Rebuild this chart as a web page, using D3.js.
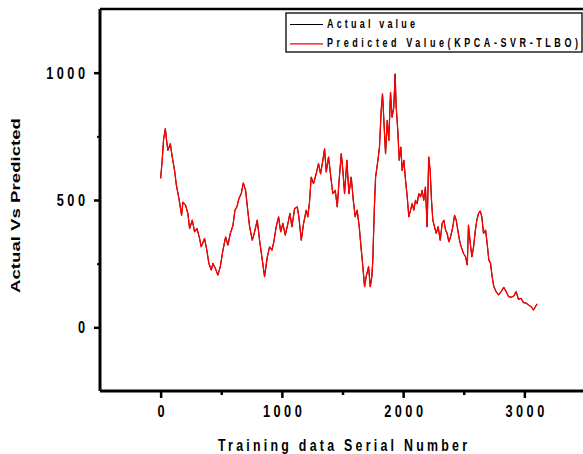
<!DOCTYPE html>
<html>
<head>
<meta charset="utf-8">
<script src="https://cdn.jsdelivr.net/npm/d3@7"></script>
<style>
  html, body { margin: 0; padding: 0; background: #fff; }
  svg { display: block; }
</style>
</head>
<body>
<svg id="chart" width="583" height="454"></svg>
<script>
// ---- data ----
const serialNumbers = [0,12,25,39,50,60,80,96,115,130,151,173,184,206,225,239,261,280,300,321,335,362,381,398,418,431,451,472,492,514,536,555,575,597,613,629,646,665,682,701,717,734,756,775,797,816,835,857,880,899,918,934,953,973,990,1008,1028,1050,1066,1083,1105,1127,1140,1160,1179,1201,1214,1228,1242,1261,1283,1302,1319,1338,1352,1366,1385,1402,1420,1440,1457,1470,1490,1503,1517,1536,1553,1572,1589,1605,1621,1638,1655,1668,1682,1695,1715,1729,1742,1750,1762,1773,1792,1805,1819,1830,1844,1855,1869,1882,1896,1909,1923,1934,1943,1956,1968,1981,1992,2006,2020,2034,2047,2061,2075,2088,2102,2116,2129,2143,2157,2170,2184,2198,2211,2223,2234,2245,2259,2273,2289,2306,2322,2336,2350,2363,2377,2391,2410,2424,2438,2451,2465,2479,2498,2515,2529,2539,2554,2567,2581,2596,2608,2622,2636,2649,2663,2680,2693,2707,2721,2734,2748,2767,2786,2808,2830,2850,2869,2891,2913,2932,2951,2973,2992,3015,3034,3056,3075,3091,3105];
const actualValues = [585,650,740,780,730,695,721,668,616,558,506,440,492,479,447,388,421,375,388,349,316,349,303,251,225,251,232,205,238,303,355,323,369,401,460,473,506,525,567,538,466,395,342,375,421,342,277,199,277,316,303,336,395,434,375,408,362,408,447,395,466,473,434,342,408,460,434,492,590,564,603,643,603,656,701,610,669,597,525,538,473,564,682,616,525,656,525,590,499,434,460,395,303,238,160,199,238,160,199,264,460,590,656,708,851,917,786,682,812,734,923,825,864,995,864,773,656,708,616,656,577,512,434,460,486,460,499,486,525,512,538,499,551,395,669,616,499,421,395,369,395,342,408,421,382,369,336,355,395,440,421,382,342,316,290,277,245,401,329,277,316,382,421,447,457,434,369,382,329,264,251,199,160,140,127,140,157,140,121,118,123,140,110,114,97,95,88,81,68,81,92];
// the predicted curve coincides with the actual one at this resolution
const predictedValues = actualValues.slice();

const xTickValues = [0, 1000, 2000, 3000];
const yTickValues = [0, 500, 1000];
const seriesNames = ["Actual value", "Predicted Value(KPCA-SVR-TLBO)"];
const xTitle = "Training data Serial Number";
const yTitle = "Actual Vs Predicted";

(function () {
const svg = d3.select("#chart");
const mLeft = 100, mTop = 9, mBottom = 391, mRight = 585;
const x = d3.scaleLinear().domain([-500, 3500]).range([mLeft, mRight]);
const y = d3.scaleLinear().domain([-250, 1250]).range([mBottom, mTop]);
const FONT = "'Liberation Sans', Arial, sans-serif";

// condensed text: glyphs squeezed horizontally by sx, spacing fitted to width w
function condense(t, w, sx) {
  const x0 = +(t.attr("x") || 0);
  t.attr("transform", `scale(${sx},1)`).attr("x", x0 / sx)
   .attr("textLength", w / sx).attr("lengthAdjust", "spacing");
}

// series
const line = d3.line().x(d => x(d[0])).y(d => y(d[1]));
const actualPts = serialNumbers.map((s, i) => [s, actualValues[i]]);
const predPts = serialNumbers.map((s, i) => [s, predictedValues[i]]);
svg.append("path").datum(actualPts).attr("d", line)
  .attr("fill", "none").attr("stroke", "#000").attr("stroke-width", 1);
svg.append("path").datum(predPts).attr("d", line)
  .attr("fill", "none").attr("stroke", "#ff0000").attr("stroke-width", 1.3)
  .attr("stroke-linejoin", "round");

// axes
const xAxis = d3.axisBottom(x).tickValues(xTickValues).tickSize(7).tickFormat(d3.format("d"));
const yAxis = d3.axisLeft(y).tickValues(yTickValues).tickSize(6).tickFormat(d3.format("d"));
const gx = svg.append("g").attr("transform", `translate(0,${mBottom})`).call(xAxis);
const gy = svg.append("g").attr("transform", `translate(${mLeft},0)`).call(yAxis);

// minor ticks
svg.append("g").attr("transform", `translate(0,${mBottom})`)
  .call(d3.axisBottom(x).tickValues([500, 1500, 2500]).tickSize(4).tickFormat(""))
  .call(g => g.select(".domain").remove())
  .selectAll("line").attr("stroke-width", 2.5);
svg.append("g").attr("transform", `translate(${mLeft},0)`)
  .call(d3.axisLeft(y).tickValues([250, 750]).tickSize(3).tickFormat(""))
  .call(g => g.select(".domain").remove())
  .selectAll("line").attr("stroke-width", 2);

[gx, gy].forEach(g => {
  g.select(".domain").attr("stroke-width", 3);
  g.selectAll(".tick line").attr("stroke-width", 2.5);
  g.selectAll(".tick text")
    .attr("font-family", FONT).attr("font-weight", "bold")
    .attr("font-size", 17).attr("fill", "#000");
});
gx.select(".domain").attr("d", `M${mLeft},0H${mRight}`);
gy.select(".domain").attr("d", `M0,${mBottom}V${mTop}`);
const labelW = s => 10.6 * s.length - 3.6;
gx.selectAll(".tick text").attr("y", 26).attr("dy", null).each(function (d) {
  const t = d3.select(this); condense(t, labelW(String(d)), 0.75);
});
gy.selectAll(".tick text").attr("x", -15).attr("dy", null).attr("y", 5.5).each(function (d) {
  const t = d3.select(this); condense(t, labelW(String(d)), 0.75);
});

// top border
svg.append("line").attr("x1", mLeft).attr("x2", mRight).attr("y1", y(1250)).attr("y2", y(1250))
  .attr("stroke", "#000").attr("stroke-width", 2.5);

// axis titles
const xt = svg.append("text").text(xTitle)
  .attr("x", 218).attr("y", 451)
  .attr("font-family", FONT).attr("font-weight", "bold").attr("font-size", 16.5).attr("fill", "#000");
condense(xt, 249, 0.75);
svg.append("text").text(yTitle)
  .attr("transform", "translate(20,293) rotate(-90)")
  .attr("textLength", 175).attr("lengthAdjust", "spacingAndGlyphs")
  .attr("font-family", FONT).attr("font-weight", "bold").attr("font-size", 13.5).attr("fill", "#000");

// legend
const lg = svg.append("g");
lg.append("rect").attr("x", 286).attr("y", 13).attr("width", 296).attr("height", 39)
  .attr("fill", "#fff").attr("stroke", "#000").attr("stroke-width", 1.3);
const legendColors = ["#000", "#ff0000"];
const legendW = [88, 251];
seriesNames.forEach((name, i) => {
  const yy = 24 + i * 19.3;
  lg.append("line").attr("x1", 290).attr("x2", 323).attr("y1", yy + 0.5).attr("y2", yy + 0.5)
    .attr("stroke", legendColors[i]).attr("stroke-width", 1.2);
  const t = lg.append("text").text(name).attr("x", 327).attr("y", yy + 4)
    .attr("font-family", FONT).attr("font-weight", "bold").attr("font-size", 12.5).attr("fill", "#000");
  condense(t, legendW[i], 0.72);
});
})();
</script>
</body>
</html>
